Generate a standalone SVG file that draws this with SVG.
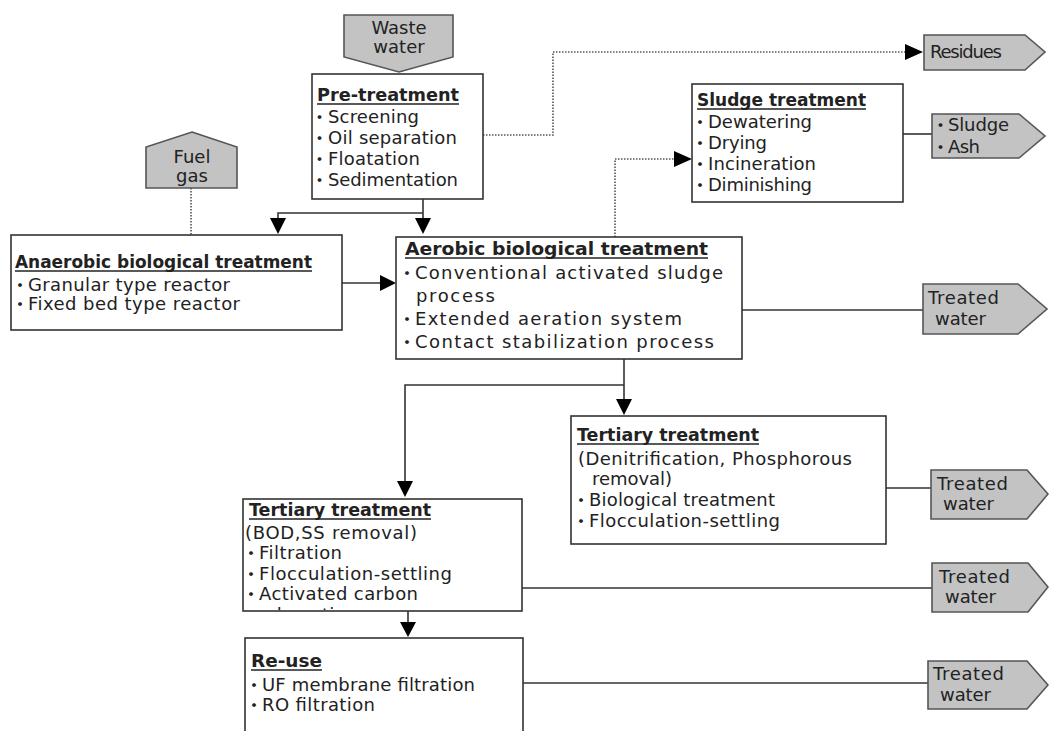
<svg xmlns="http://www.w3.org/2000/svg" width="1049" height="731" viewBox="0 0 1049 731">
<style>
text{font-family:"DejaVu Sans","Noto Sans CJK JP",sans-serif;font-size:18px;fill:#222}
.t{font-weight:bold}
.b{font-family:"Noto Sans CJK JP","Noto Sans CJK SC",sans-serif;font-size:15px;font-weight:bold}
.box{fill:#fff;stroke:#333;stroke-width:1.6}
.tag{fill:#c3c3c3;stroke:#555;stroke-width:1.6}
.ul{stroke:#222;stroke-width:1.3}
.ln{fill:none;stroke:#333;stroke-width:1.6}
.dot{fill:none;stroke:#555;stroke-width:1.6;stroke-dasharray:1.5 1.5}
.ah{fill:#000}
.c{text-anchor:middle}
</style>
<defs>
<clipPath id="clipT1"><rect x="243" y="499" width="279" height="111"/></clipPath>
</defs>

<g id="connectors">
<path class="ln" d="M423,199 V220 M423,213 H278 V220"/>
<polygon class="ah" points="415,218 431,218 423,234"/>
<polygon class="ah" points="270,218 286,218 278,234"/>
<path class="dot" d="M191,188 V235"/>
<path class="ln" d="M342,283 H382"/>
<polygon class="ah" points="380,275 380,291 396,283"/>
<path class="ln" d="M742,310 H923"/>
<path class="dot" d="M615,237 V159 H676"/>
<polygon class="ah" points="674,151 674,167 692,159"/>
<path class="dot" d="M483,135 H553 V52 H908"/>
<polygon class="ah" points="905,44 905,60 923,52"/>
<path class="ln" d="M903,134 H932"/>
<path class="ln" d="M624,359 V400 M624,385 H405 V482"/>
<polygon class="ah" points="616,399 632,399 624,415"/>
<polygon class="ah" points="397,481 413,481 405,497"/>
<path class="ln" d="M886,488 H931"/>
<path class="ln" d="M522,588 H932"/>
<path class="ln" d="M408,611 V623"/>
<polygon class="ah" points="400,622 416,622 408,637"/>
<path class="ln" d="M523,683 H928"/>
</g>

<g id="waste-water">
<polygon class="tag" points="344,15 453,15 453,57 399,72 344,57"/>
<text class="c" x="399" y="34">Waste</text>
<text class="c" x="399" y="53">water</text>
</g>

<g id="pre-treatment">
<rect class="box" x="312" y="74" width="171" height="125"/>
<text class="t" x="317" y="101" textLength="142" lengthAdjust="spacingAndGlyphs">Pre-treatment</text>
<line class="ul" x1="317" y1="104" x2="459" y2="104"/>
<text y="123"><tspan class="b" x="312">・</tspan><tspan x="328" textLength="91">Screening</tspan></text>
<text y="144"><tspan class="b" x="312">・</tspan><tspan x="328" textLength="129">Oil separation</tspan></text>
<text y="165"><tspan class="b" x="312">・</tspan><tspan x="328" textLength="92">Floatation</tspan></text>
<text y="186"><tspan class="b" x="312">・</tspan><tspan x="328" textLength="130">Sedimentation</tspan></text>
</g>

<g id="fuel-gas">
<polygon class="tag" points="192,132 237,147 237,188 146,188 146,147"/>
<text class="c" x="192" y="163">Fuel</text>
<text class="c" x="192" y="182">gas</text>
</g>

<g id="residues">
<polygon class="tag" points="924,35 1025,35 1045,52 1025,70 924,70"/>
<text x="930" y="58" textLength="72">Residues</text>
</g>

<g id="sludge-treatment">
<rect class="box" x="692" y="84" width="211" height="118"/>
<text class="t" x="697" y="106" textLength="169" lengthAdjust="spacingAndGlyphs">Sludge treatment</text>
<line class="ul" x1="697" y1="109" x2="866" y2="109"/>
<text y="128"><tspan class="b" x="692.5">・</tspan><tspan x="708" textLength="104">Dewatering</tspan></text>
<text y="149"><tspan class="b" x="692.5">・</tspan><tspan x="708" textLength="59">Drying</tspan></text>
<text y="170"><tspan class="b" x="692.5">・</tspan><tspan x="708" textLength="108">Incineration</tspan></text>
<text y="191"><tspan class="b" x="692.5">・</tspan><tspan x="708" textLength="104">Diminishing</tspan></text>
</g>

<g id="sludge-ash">
<polygon class="tag" points="932,114 1019,114 1045,136 1019,158 932,158"/>
<text y="131"><tspan class="b" x="933">・</tspan><tspan x="948" textLength="61">Sludge</tspan></text>
<text y="153"><tspan class="b" x="933">・</tspan><tspan x="948" textLength="32">Ash</tspan></text>
</g>

<g id="anaerobic">
<rect class="box" x="11" y="235" width="331" height="95"/>
<text class="t" x="15" y="268" textLength="297" lengthAdjust="spacingAndGlyphs">Anaerobic biological treatment</text>
<line class="ul" x1="15" y1="271" x2="312" y2="271"/>
<text y="291"><tspan class="b" x="12.5">・</tspan><tspan x="28" textLength="202">Granular type reactor</tspan></text>
<text y="310"><tspan class="b" x="12.5">・</tspan><tspan x="28" textLength="212">Fixed bed type reactor</tspan></text>
</g>

<g id="aerobic">
<rect class="box" x="396" y="237" width="346" height="122"/>
<text class="t" x="405" y="255" textLength="303" lengthAdjust="spacingAndGlyphs">Aerobic biological treatment</text>
<line class="ul" x1="405" y1="258" x2="708" y2="258"/>
<text y="279"><tspan class="b" x="399.5">・</tspan><tspan x="415" textLength="308">Conventional activated sludge</tspan></text>
<text x="416" y="302" textLength="79">process</text>
<text y="325"><tspan class="b" x="399.5">・</tspan><tspan x="415" textLength="267">Extended aeration system</tspan></text>
<text y="348"><tspan class="b" x="399.5">・</tspan><tspan x="415" textLength="299">Contact stabilization process</tspan></text>
</g>

<g id="treated-water-1">
<polygon class="tag" points="923,284 1018,284 1047,309 1018,334 923,334"/>
<text x="928" y="304" textLength="71">Treated</text>
<text x="935" y="325" textLength="51">water</text>
</g>

<g id="tertiary-nutrient">
<rect class="box" x="571" y="416" width="315" height="128"/>
<text class="t" x="577" y="441" textLength="182" lengthAdjust="spacingAndGlyphs">Tertiary treatment</text>
<line class="ul" x1="577" y1="444" x2="759" y2="444"/>
<text x="578" y="465" textLength="274">(Denitrification, Phosphorous</text>
<text x="592" y="485" textLength="80">removal)</text>
<text y="506"><tspan class="b" x="573.5">・</tspan><tspan x="589" textLength="186">Biological treatment</tspan></text>
<text y="527"><tspan class="b" x="573.5">・</tspan><tspan x="589" textLength="191">Flocculation-settling</tspan></text>
</g>

<g id="treated-water-2">
<polygon class="tag" points="931,470 1027,470 1048,494 1027,519 931,519"/>
<text x="937" y="490" textLength="71">Treated</text>
<text x="943" y="510" textLength="51">water</text>
</g>

<g id="tertiary-bod">
<rect class="box" x="243" y="499" width="279" height="112"/>
<text class="t" x="249" y="516" textLength="182" lengthAdjust="spacingAndGlyphs">Tertiary treatment</text>
<line class="ul" x1="249" y1="519" x2="431" y2="519"/>
<text x="245" y="539" textLength="172">(BOD,SS removal)</text>
<text y="559"><tspan class="b" x="243.5">・</tspan><tspan x="259" textLength="83">Filtration</tspan></text>
<text y="580"><tspan class="b" x="243.5">・</tspan><tspan x="259" textLength="193">Flocculation-settling</tspan></text>
<text y="600"><tspan class="b" x="243.5">・</tspan><tspan x="259" textLength="159">Activated carbon</tspan></text>
<g clip-path="url(#clipT1)"><text x="259" y="621" textLength="98">adsorption</text></g>
</g>

<g id="treated-water-3">
<polygon class="tag" points="932,563 1028,563 1048,587 1028,612 932,612"/>
<text x="939" y="583" textLength="71">Treated</text>
<text x="945" y="603" textLength="51">water</text>
</g>

<g id="re-use">
<rect class="box" x="245" y="638" width="278" height="110"/>
<text class="t" x="251" y="667" textLength="71" lengthAdjust="spacingAndGlyphs">Re-use</text>
<line class="ul" x1="251" y1="670" x2="322" y2="670"/>
<text y="691"><tspan class="b" x="246.5">・</tspan><tspan x="262" textLength="213">UF membrane filtration</tspan></text>
<text y="711"><tspan class="b" x="246.5">・</tspan><tspan x="262" textLength="113">RO filtration</tspan></text>
</g>

<g id="treated-water-4">
<polygon class="tag" points="928,661 1027,661 1048,685 1027,709 928,709"/>
<text x="933" y="680" textLength="71">Treated</text>
<text x="940" y="701" textLength="51">water</text>
</g>
</svg>
